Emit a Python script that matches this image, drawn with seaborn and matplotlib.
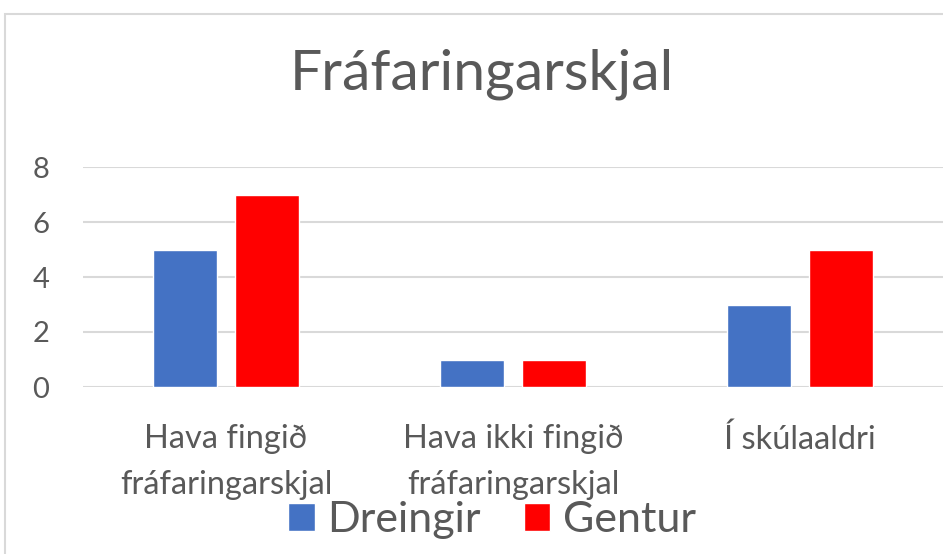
import matplotlib
matplotlib.use("Agg")
import matplotlib.pyplot as plt
import seaborn as sns
import pandas as pd
from matplotlib.patches import Rectangle

categories = ["Hava fingið\nfráfaringarskjal", "Hava ikki fingið\nfráfaringarskjal", "Í skúlaaldri"]
series_names = ["Dreingir", "Gentur"]
dreingir = [5, 1, 3]
gentur = [7, 1, 5]
yticks = [0, 2, 4, 6, 8]
title = "Fráfaringarskjal"
colors = ["#4472C4", "#FF0000"]

df = pd.DataFrame({
    "cat": categories * 2,
    "val": dreingir + gentur,
    "series": [series_names[0]] * 3 + [series_names[1]] * 3,
})

sns.set_theme(style="white")
plt.rcParams["font.family"] = ["Lato", "DejaVu Sans"]
txt = "#595959"

fig = plt.figure(figsize=(9.43, 5.54), dpi=100)
fig.patches.append(Rectangle((5 / 943, -0.1), 1.2, 1 - 14 / 554 + 0.1, transform=fig.transFigure,
                             fill=False, edgecolor="#D9D9D9", linewidth=1.5, zorder=0))
ax = fig.add_axes([82.5 / 943, 1 - 387 / 554, 861 / 943, 220 / 554])

sns.barplot(data=df, x="cat", y="val", hue="series", palette=colors, ax=ax,
            width=0.571, gap=0.22, saturation=1, legend=True)

ax.set_ylim(0, 8)
ax.set_yticks(yticks)
ax.set_xlim(-0.5, 2.5)
ax.grid(axis="y", color="#D9D9D9", linewidth=1.5)
ax.set_axisbelow(True)
for s in ax.spines.values():
    s.set_visible(False)
ax.set_xlabel("")
ax.set_ylabel("")
ax.tick_params(axis="y", labelsize=21, labelcolor=txt, length=0, pad=24)
ax.tick_params(axis="x", labelsize=23.5, labelcolor=txt, length=0, pad=27)
for lab in ax.get_xticklabels():
    lab.set_linespacing(1.65)

fig.text(482 / 943, 1 - 74 / 554, title, ha="center", va="center", fontsize=41, color=txt)

leg = ax.legend(loc="center", bbox_to_anchor=(492 / 943, 1 - 520 / 554), bbox_transform=fig.transFigure,
                ncol=2, frameon=False, fontsize=31, handlelength=0.62, handleheight=0.62,
                handletextpad=0.28, columnspacing=1.0, labelcolor=txt)

fig.savefig("out.png", dpi=100)
